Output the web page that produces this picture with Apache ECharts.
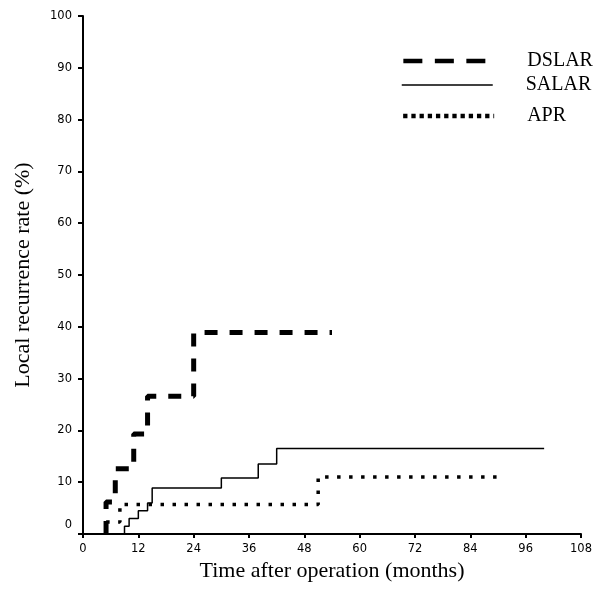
<!DOCTYPE html>
<html>
<head>
<meta charset="utf-8">
<script src="https://cdn.jsdelivr.net/npm/echarts@6/dist/echarts.min.js"></script>
<style>
  html, body { margin: 0; padding: 0; background: #fff; }
  #chart { width: 595px; height: 596px; }
</style>
</head>
<body>
<div id="chart"></div>
<script>
    // step curves: time (months) and cumulative recurrence (%)
    var dslarTime = [5, 5, 7, 11, 14, 24, 54];
    var dslarRate = [0, 6.2, 12.6, 19.3, 26.6, 38.9, 38.9];

    var salarTime = [9, 9, 10, 12, 14, 15, 30, 38, 42, 100];
    var salarRate = [0, 1.5, 3, 4.5, 6, 8.9, 10.8, 13.5, 16.5, 16.5];

    var aprTime = [5, 5, 8, 51, 91];
    var aprRate = [0, 2.3, 5.7, 11, 11];

    var seriesNames = ['DSLAR', 'SALAR', 'APR'];

    function pairs(xs, ys) {
        return xs.map(function (x, i) { return [x, ys[i]]; });
    }

    var serif = '"Liberation Serif", "Times New Roman", serif';
    var tickFont = '"DejaVu Sans", Arial, sans-serif';

    // one legend box per entry, the rows are not evenly spaced in the original
    function legendRow(name, top, lineStyle) {
        return {
            orient: 'vertical',
            left: 396,
            top: top,
            itemWidth: 91,
            itemHeight: 20,
            itemStyle: { opacity: 0 },
            textStyle: { fontFamily: serif, fontSize: 20, color: '#000', padding: [0, 0, 0, 28], lineHeight: 20 },
            data: [{ name: name, lineStyle: lineStyle }]
        };
    }

    var myChart = echarts.init(document.getElementById('chart'));

    myChart.setOption({
        animation: false,
        backgroundColor: '#fff',
        grid: { left: 83, right: 10, top: 16, bottom: 62 },
        legend: [
            legendRow('DSLAR', 46, { type: [19, 12.5], width: 4.7, color: '#000' }),
            legendRow('SALAR', 70, { type: 'solid', width: 1.5, color: '#000' }),
            legendRow('APR', 101, { type: [4.3, 3.9], width: 4.3, color: '#000' })
        ],
        xAxis: {
            type: 'value',
            min: 0,
            max: 108,
            interval: 12,
            name: 'Time after operation (months)',
            nameLocation: 'middle',
            nameGap: 25,
            nameTextStyle: { fontFamily: serif, fontSize: 22, color: '#000' },
            splitLine: { show: false },
            axisLine: { lineStyle: { color: '#000', width: 2 } },
            axisTick: { length: 4, lineStyle: { color: '#000', width: 2 } },
            axisLabel: { fontFamily: tickFont, fontSize: 11.5, color: '#000', margin: 9 }
        },
        yAxis: {
            type: 'value',
            min: 0,
            max: 100,
            interval: 10,
            name: 'Local recurrence rate (%)',
            nameLocation: 'middle',
            nameRotate: 90,
            nameGap: 49,
            nameTextStyle: { fontFamily: serif, fontSize: 22, color: '#000' },
            splitLine: { show: false },
            axisLine: { show: true, onZero: false, lineStyle: { color: '#000', width: 2 } },
            axisTick: { show: true, length: 5, lineStyle: { color: '#000', width: 2 } },
            axisLabel: {
                fontFamily: tickFont, fontSize: 11.5, color: '#000', margin: 11,
                formatter: function (v) { return v === 0 ? '{z|0}' : String(v); },
                rich: { z: { fontFamily: tickFont, fontSize: 11.5, color: '#000', padding: [0, 0, 18, 0] } }
            }
        },
        series: [
            {
                name: seriesNames[0],
                type: 'line',
                step: 'end',
                symbol: 'none',
                color: '#000',
                lineStyle: { color: '#000', width: 5, type: [13, 12] },
                data: pairs(dslarTime, dslarRate)
            },
            {
                name: seriesNames[1],
                type: 'line',
                step: 'end',
                symbol: 'none',
                color: '#000',
                lineStyle: { color: '#000', width: 1.5, type: 'solid' },
                data: pairs(salarTime, salarRate)
            },
            {
                name: seriesNames[2],
                type: 'line',
                step: 'end',
                symbol: 'none',
                color: '#000',
                lineStyle: { color: '#000', width: 3.5, type: [3.5, 8.5] },
                data: pairs(aprTime, aprRate)
            }
        ]
    });
</script>
</body>
</html>
